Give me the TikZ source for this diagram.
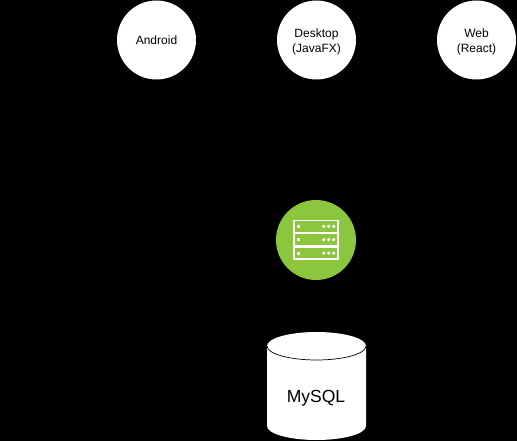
\documentclass[tikz,border=0pt]{standalone}
\usepackage{fontspec}
\setmainfont{Liberation Sans}
\usetikzlibrary{positioning}
\definecolor{servergreen}{HTML}{8CC63F}
\tikzset{
    client/.style={circle,fill=white,minimum size=79pt,inner sep=0pt,align=center,font=\fontsize{12pt}{15pt}\selectfont},
    clienttext/.style={align=center,inner sep=0pt,yshift=-1.5pt,font=\fontsize{12pt}{15pt}\selectfont},
    rack/.style={draw=white,line width=1.4pt,minimum width=44pt,minimum height=12pt,inner sep=0pt},
    led/.style={circle,fill=white,inner sep=0pt,minimum size=3.6pt}
}

\begin{document}
\begin{tikzpicture}[x=1pt,y=-1pt]

        \fill[black] (0, 0) rectangle (517, 441);

        \node[client](android) at (156.5, 40) {Android};
        \node[client,label={[clienttext]center:Desktop\\(JavaFX)}](desktop) at (316.5, 40) {};
        \node[client,label={[clienttext]center:Web\\(React)}](web) at (476.5, 40) {};

        \node[circle,fill=servergreen,minimum size=80pt,inner sep=0pt](server) at (316, 240) {};
        \node[rack](rack2) at (316, 239.7) {};
        \node[rack,above=0pt of rack2](rack1) {};
        \node[rack,below=0pt of rack2](rack3) {};

        \foreach \r in {rack1,rack2,rack3} {
            \node[fill=white,inner sep=0pt,minimum size=2.8pt] at ([xshift=5.5pt]\r.west) {};
            \foreach \d in {5,10,15}
                \node[led] at ([xshift=-\d pt]\r.east) {};
        }

        \fill[white] (267, 346) arc[start angle=180,end angle=0,x radius=49.5,y radius=-14] -- (366, 426) arc[start angle=0,end angle=-180,x radius=49.5,y radius=-14] -- cycle;
        \draw[black,line width=0.7pt] (267, 346) arc[start angle=180,end angle=360,x radius=49.5,y radius=-14];
        \node[font=\fontsize{17.5pt}{20pt}\selectfont](db) at (316, 398.5) {MySQL};

\end{tikzpicture}
\end{document}
